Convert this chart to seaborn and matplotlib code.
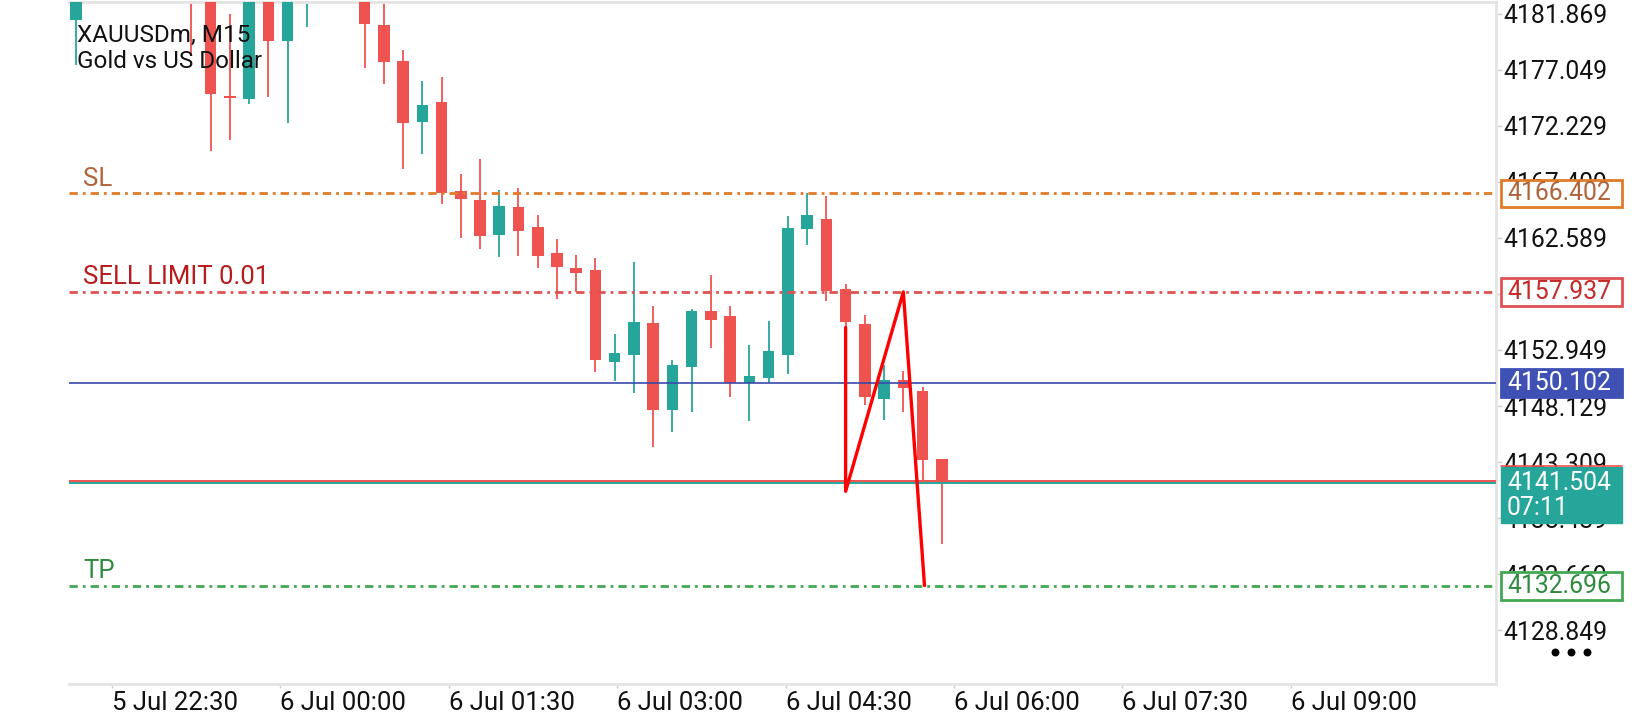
import matplotlib
matplotlib.use('Agg')
import matplotlib.pyplot as plt
import seaborn as sns
import pandas as pd
from matplotlib.patches import Rectangle
from matplotlib.transforms import blended_transform_factory

# XAUUSDm M15 candles (bar index 0..45)
opens = [4181.31, 4184.60, 4189.00, 4192.10, 4190.00, 4188.40, 4186.90, 4184.30, 4174.82, 4174.53,
         4184.20, 4179.53, 4185.50, 4188.60, 4186.00, 4187.20, 4180.88, 4177.77, 4172.52, 4174.30,
         4166.60, 4165.82, 4162.81, 4165.22, 4163.56, 4161.30, 4160.00, 4159.83, 4151.92, 4152.56,
         4155.31, 4147.78, 4151.52, 4156.28, 4155.83, 4150.10, 4150.56, 4152.56, 4163.36, 4164.23,
         4158.15, 4155.22, 4148.74, 4150.33, 4149.46, 4143.55]
highs = [4186.00, 4190.20, 4193.50, 4194.80, 4192.70, 4190.10, 4188.00, 4185.20, 4181.87, 4185.00,
         4185.40, 4186.30, 4189.40, 4190.00, 4188.10, 4188.00, 4183.20, 4178.72, 4176.03, 4176.38,
         4168.05, 4169.35, 4166.74, 4166.83, 4164.57, 4162.49, 4161.10, 4160.87, 4154.35, 4160.53,
         4156.76, 4152.12, 4156.47, 4159.36, 4156.76, 4153.37, 4155.46, 4164.49, 4166.40, 4166.16,
         4158.64, 4155.98, 4151.69, 4151.11, 4149.77, 4143.60]
lows = [4177.42, 4183.80, 4187.60, 4188.90, 4187.20, 4185.30, 4178.28, 4170.06, 4170.99, 4174.10,
        4174.68, 4172.43, 4180.68, 4184.50, 4183.40, 4177.19, 4175.83, 4168.53, 4169.83, 4165.53,
        4162.55, 4161.59, 4160.90, 4160.99, 4160.03, 4157.34, 4157.91, 4151.03, 4150.30, 4149.28,
        4144.62, 4145.89, 4147.64, 4153.08, 4148.87, 4146.83, 4150.10, 4150.91, 4161.97, 4157.19,
        4154.90, 4148.22, 4146.92, 4147.58, 4141.70, 4136.30]
closes = [4184.60, 4189.00, 4192.10, 4190.00, 4188.40, 4186.90, 4184.30, 4174.97, 4174.62, 4184.20,
          4179.53, 4185.50, 4188.60, 4186.00, 4187.20, 4180.95, 4177.70, 4172.43, 4174.04, 4166.46,
          4165.95, 4162.72, 4165.30, 4163.16, 4161.07, 4160.12, 4159.59, 4152.07, 4152.71, 4155.39,
          4147.78, 4151.67, 4156.28, 4155.51, 4150.10, 4150.74, 4152.88, 4163.47, 4164.52, 4157.98,
          4155.37, 4148.94, 4150.33, 4149.66, 4143.50, 4141.504]

# hand-drawn red zigzag
zigzag_bar = [40, 40, 43, 44.1]
zigzag_price = [4154.88, 4140.80, 4157.94, 4132.70]

sl_price = 4166.402
sell_limit_price = 4157.937
blue_price = 4150.102
bid_price = 4141.504
ask_price = 4141.68
tp_price = 4132.696
bar_timer = '07:11'

y_ticks = [4181.869, 4177.049, 4172.229, 4167.409, 4162.589, 4157.769,
           4152.949, 4148.129, 4143.309, 4138.489, 4133.669, 4128.849]
time_labels = ['5 Jul 22:30', '6 Jul 00:00', '6 Jul 01:30', '6 Jul 03:00',
               '6 Jul 04:30', '6 Jul 06:00', '6 Jul 07:30', '6 Jul 09:00']
time_label_bars = [1.88, 10.63, 19.38, 28.13, 36.88, 45.63, 54.38, 63.13]

UP = '#26a69a'
DOWN = '#ef5350'
GRID = '#e4e4e4'
W, H = 1640, 720
FS = 18.5


def main():
    sns.set_style('white')
    plt.rcParams['font.family'] = ['Roboto', 'DejaVu Sans']

    df = pd.DataFrame({'open': opens, 'high': highs, 'low': lows, 'close': closes})
    df['bar'] = range(len(df))
    df['color'] = [UP if c >= o else DOWN for o, c in zip(df['open'], df['close'])]

    fig = plt.figure(figsize=(W / 100, H / 100), dpi=100)
    left, right, top, bottom = 69, 1496, 2, 684
    ax = fig.add_axes([left / W, 1 - bottom / H, (right - left) / W, (bottom - top) / H])

    # candles
    ax.vlines(df['bar'], df['low'], df['high'], colors=df['color'], linewidth=1.3, zorder=2)
    body_lo = df[['open', 'close']].min(axis=1)
    body_h = (df['open'] - df['close']).abs().clip(lower=0.08)
    ax.bar(df['bar'], body_h, bottom=body_lo, width=0.6, color=df['color'], linewidth=0, zorder=3)

    # order / price levels
    dashdot = (0, (3, 1.8, 1, 1.8))
    ax.axhline(sl_price, color='#e07b28', lw=2, linestyle=dashdot, zorder=4)
    ax.axhline(sell_limit_price, color='#e05252', lw=2, linestyle=dashdot, zorder=4)
    ax.axhline(tp_price, color='#43a853', lw=2, linestyle=dashdot, zorder=4)
    ax.axhline(blue_price, color='#3949ab', lw=1.2, zorder=4)
    ax.axhline(bid_price, color=UP, lw=1.4, zorder=4)
    ax.axhline(ask_price, color=DOWN, lw=1.4, zorder=4)

    lbl_tr = blended_transform_factory(ax.transAxes, ax.transData)
    for txt, price, col in [('SL', sl_price, '#b0643c'),
                            ('SELL LIMIT 0.01', sell_limit_price, '#b71c1c'),
                            ('TP', tp_price, '#2e8b3e')]:
        ax.annotate(txt, xy=(0.0098, price), xycoords=lbl_tr, xytext=(0, 5.5),
                    textcoords='offset points', va='baseline', ha='left',
                    fontsize=FS, color=col, zorder=6)

    sns.lineplot(x=zigzag_bar, y=zigzag_price, sort=False, estimator=None,
                 color='#ff0000', lw=2.4, ax=ax, zorder=5)

    ax.text(0.0056, 1 - 39.7 / 682, 'XAUUSDm, M15', transform=ax.transAxes, fontsize=17.5,
            va='baseline', ha='left', color='#111111', zorder=7)
    ax.text(0.0056, 1 - 66.3 / 682, 'Gold vs US Dollar', transform=ax.transAxes, fontsize=17.5,
            va='baseline', ha='left', color='#111111', zorder=7)

    ax.set_xlim(-0.36, 73.8)
    ax.set_ylim(4124.24, 4182.86)

    # axes look
    ax.yaxis.tick_right()
    ax.set_yticks(y_ticks, [f'{v:.3f}' for v in y_ticks])
    ax.set_xticks(time_label_bars, time_labels)
    for lbl in ax.get_xticklabels():
        lbl.set_horizontalalignment('left')
    ax.tick_params(axis='y', right=True, left=False, length=4, width=1, color='#cfcfcf',
                   pad=1.5, labelsize=17.8, labelcolor='#111111')
    ax.tick_params(axis='x', bottom=True, length=3, width=1, color='#cfcfcf',
                   pad=2, labelsize=FS, labelcolor='#111111')
    for side in ['top', 'right', 'bottom']:
        ax.spines[side].set_color(GRID)
        ax.spines[side].set_linewidth(2)
    ax.spines['left'].set_visible(False)
    ax.set_xlabel('')
    ax.set_ylabel('')

    # price boxes on the right scale
    box_tr = blended_transform_factory(fig.transFigure, ax.transData)
    bx0, bx1 = 1501 / W, 1622 / W
    half = 1.2

    def price_box(price, text, edge, face, tcol):
        ax.add_patch(Rectangle((bx0, price - half), bx1 - bx0, 2 * half, transform=box_tr,
                               facecolor=face, edgecolor=edge, lw=2, clip_on=False, zorder=8))
        ax.text(1507 / W, price, text, transform=box_tr, va='center', ha='left',
                fontsize=17.8, color=tcol, zorder=9, clip_on=False)

    price_box(sl_price, f'{sl_price:.3f}', '#e07b28', 'white', '#b0643c')
    price_box(sell_limit_price, f'{sell_limit_price:.3f}', '#e05252', 'white', '#c62828')
    price_box(blue_price, f'{blue_price:.3f}', '#3f51b5', '#3f51b5', 'white')
    price_box(tp_price, f'{tp_price:.3f}', '#43a853', 'white', '#2e8b3e')

    # bid box with bar timer
    ax.add_patch(Rectangle((bx0, 4138.08), bx1 - bx0, 4142.89 - 4138.08, transform=box_tr,
                           facecolor=UP, edgecolor=UP, lw=1, clip_on=False, zorder=8))
    ax.plot([bx0, bx1], [4142.95, 4142.95], transform=box_tr, color=DOWN, lw=1.2,
            clip_on=False, zorder=9)
    ax.text(1507 / W, bid_price, f'{bid_price:.3f}', transform=box_tr, va='center', ha='left',
            fontsize=17.8, color='white', zorder=9, clip_on=False)
    ax.text(1507 / W, 4139.37, bar_timer, transform=box_tr, va='center', ha='left',
            fontsize=17.8, color='white', zorder=9, clip_on=False)

    # menu dots
    ax.scatter([1555 / W, 1571 / W, 1587 / W], [1 - 652 / H] * 3, s=22, color='black',
               transform=fig.transFigure, clip_on=False, zorder=9)

    fig.savefig('out.png', dpi=100, facecolor='white')
    plt.close(fig)


if __name__ == '__main__':
    main()
